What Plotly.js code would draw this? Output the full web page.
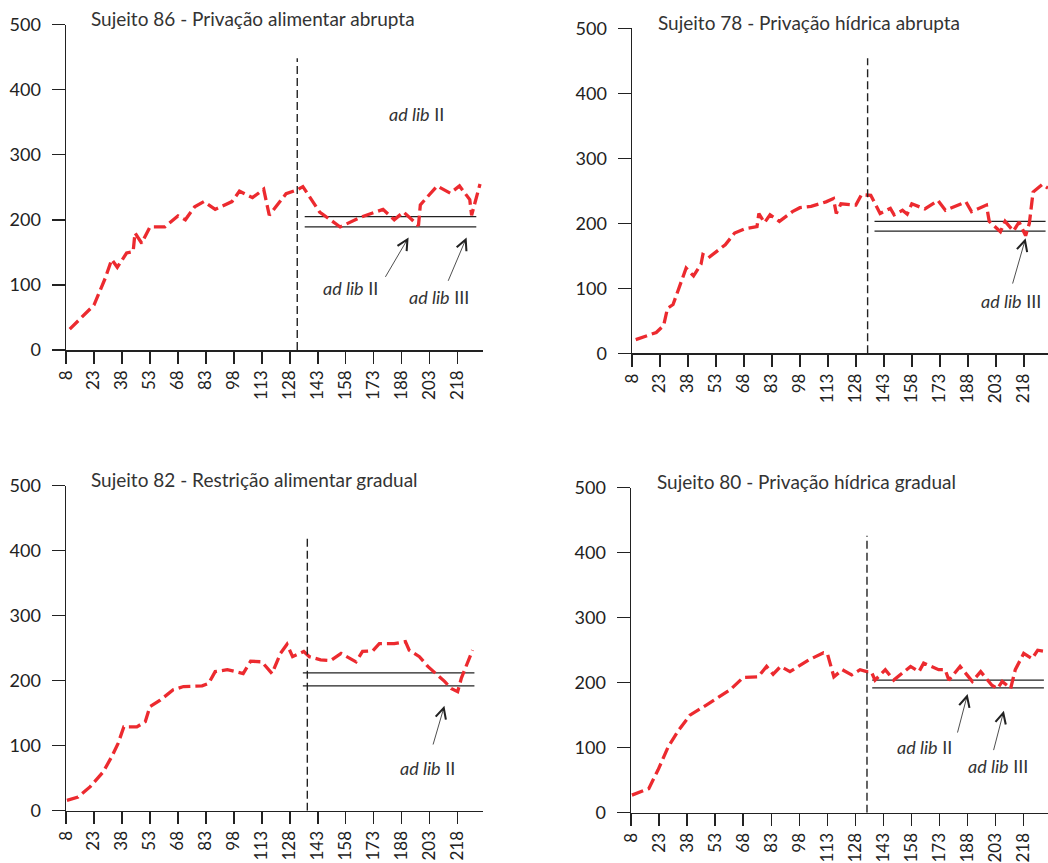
<!DOCTYPE html>
<html>
<head>
<meta charset="utf-8">
<script src="https://cdn.plot.ly/plotly-3.0.1.min.js"></script>
<style>html,body{margin:0;padding:0;background:#fff;}#chart{width:1048px;height:863px;}</style>
</head>
<body>
<div id="chart"></div>
<script>
// ---- data ----
const tickSessions = [8, 23, 38, 53, 68, 83, 98, 113, 128, 143, 158, 173, 188, 203, 218];
const yTicks = [0, 100, 200, 300, 400, 500];

const titles = [
  'Sujeito 86 - Privação alimentar abrupta',
  'Sujeito 78 - Privação hídrica abrupta',
  'Sujeito 82 - Restrição alimentar gradual',
  'Sujeito 80 - Privação hídrica gradual'
];

const sessions86 = [10, 23, 29, 32.5, 35.5, 40.5, 44, 45, 48.6, 53, 61, 68, 72, 77, 82, 88, 97, 101, 108, 114, 117, 126, 132, 135, 144, 155, 166, 178, 184, 189, 197, 198, 207, 214, 219, 224.5, 225.5, 230];
const values86   = [32, 69, 110, 139, 127, 149, 151, 180, 164, 189, 189, 206, 200, 220, 228, 216, 228, 244, 234, 247, 207, 240, 246, 251, 212, 189, 204, 216, 200, 212, 191, 223, 252, 241, 252, 231, 207, 255];

const sessions78 = [10, 21, 25, 27, 30, 37, 41, 45, 46, 49, 58, 63, 69, 75, 76, 79, 82, 87, 94, 98, 104, 112, 116, 117.5, 120, 128, 131, 136, 141, 146.5, 148.5, 153, 155.5, 158, 165, 172, 176, 187, 190, 198, 199.5, 205.5, 208, 212.5, 215.5, 219, 221, 223, 228, 231];
const values78   = [21, 32, 43, 69, 75, 131, 119, 137, 152, 147, 167, 185, 192, 195, 215, 201, 213, 203, 218, 224, 226, 233, 238, 215, 230, 228, 244, 243, 215, 223, 213, 220, 214, 230, 222, 235, 220, 233, 218, 228, 203, 187, 203, 188, 202, 181, 200, 248, 260, 254];

const sessions82 = [8.5, 14.5, 21, 28, 32.5, 36, 39, 46, 50.5, 53, 58.5, 65.5, 71, 81, 84.5, 88, 94.5, 103, 107, 113, 118.5, 123, 126.5, 129.5, 135.5, 138.5, 144.5, 150, 155.5, 163.5, 167, 172.5, 176, 184, 190, 192, 197.5, 202, 211, 214.5, 218, 220, 226];
const values82   = [16, 21, 37, 60, 83, 104, 129, 129, 137, 160, 170, 186, 191, 192, 196, 214, 217, 211, 230, 229, 211, 242, 256, 237, 245, 237, 232, 231, 242, 229, 245, 246, 257, 257, 260, 247, 237, 222, 199, 188, 183, 204, 247];

const sessions80 = [8.5, 17.5, 22.5, 28, 33.5, 39.5, 48.5, 58.5, 61, 68, 76, 80.5, 84, 88, 93, 103, 111, 113, 116.5, 121, 126, 130.5, 134, 136.5, 138.5, 144, 148.5, 157.5, 162, 164.5, 172.5, 176, 178, 184, 190.5, 195, 201, 204, 206.5, 211, 213.5, 218, 222.5, 225.5, 230];
const values80   = [27, 37, 66, 102, 127, 150, 166, 184, 189, 208, 209, 225, 213, 225, 217, 235, 246, 245, 209, 220, 212, 220, 217, 217, 204, 220, 204, 225, 217, 230, 220, 220, 204, 225, 202, 217, 196, 191, 202, 191, 220, 245, 237, 250, 248];

// phase change session and top of the dashed divider
const phaseChange = [132, 134.3, 137.4, 134.2];
const phaseTop    = [448, 454, 423, 426];
// ad lib reference levels
const adlibUpper = [205, 203, 212, 204];
const adlibLower = [189, 188, 192, 192];
const adlibStart = [136, 138, 135, 137];
const adlibEnd   = [228, 229.7, 227, 228.8];
const xMax = [231.6, 231, 231.6, 231];

// annotation labels: [panel, text, x, y, arrowTailX, arrowTailY, arrowHeadX, arrowHeadY]
const labels = [
  [0, '<i>ad lib</i> II', 196, 363, null, null, null, null],
  [0, '<i>ad lib</i> II', 160.5, 95, 178.8, 110, 191.7, 173],
  [0, '<i>ad lib</i> III', 208, 81, 212.6, 104, 222.8, 173],
  [1, '<i>ad lib</i> III', 211, 80.5, 211.8, 105, 219, 177],
  [2, '<i>ad lib</i> II', 202, 65, 204.6, 99.5, 210.9, 161.5],
  [3, '<i>ad lib</i> II', 165, 100.6, 182.4, 121, 188, 182.6],
  [3, '<i>ad lib</i> III', 204.2, 72, 201.7, 94, 207.4, 157]
];

// ---- layout geometry (pixels -> paper) ----
const W = 1048, H = 863;
const panels = [
  {l: 66, r: 483, b: 350, t: 24.5, tx: 89, ty: 18},
  {l: 632, r: 1048, b: 353.3, t: 28.3, tx: 655.7, ty: 22.7},
  {l: 66, r: 483, b: 810.7, t: 485.7, tx: 89, ty: 479.3},
  {l: 631, r: 1048, b: 812.7, t: 487.7, tx: 654.7, ty: 481.7}
];

const sessionsAll = [sessions86, sessions78, sessions82, sessions80];
const valuesAll = [values86, values78, values82, values80];

const FONT = 'Lato, "Open Sans", sans-serif';
const traces = [];
const layout = {
  width: W, height: H,
  margin: {l: 0, r: 0, t: 0, b: 0},
  paper_bgcolor: '#fff', plot_bgcolor: 'rgba(0,0,0,0)',
  showlegend: false,
  shapes: [], annotations: []
};

panels.forEach((p, i) => {
  const n = i + 1;
  const xa = 'x' + (n === 1 ? '' : n), ya = 'y' + (n === 1 ? '' : n);
  const xk = 'xaxis' + (n === 1 ? '' : n), yk = 'yaxis' + (n === 1 ? '' : n);
  traces.push({
    type: 'scatter', mode: 'lines', x: sessionsAll[i], y: valuesAll[i],
    xaxis: xa, yaxis: ya, cliponaxis: true,
    line: {color: '#ec2a2f', width: 3.3, dash: '12px,5px'},
    hoverinfo: 'skip'
  });
  const common = {
    showline: true, linecolor: '#222', linewidth: 1.5,
    ticks: 'outside', ticklen: 13, tickwidth: 1.5, tickcolor: '#222',
    showgrid: false, zeroline: false, fixedrange: true,
    tickfont: {family: FONT, size: 18, color: '#222'}
  };
  layout[xk] = Object.assign({}, common, {
    domain: [p.l / W, p.r / W], anchor: ya, range: [8, xMax[i]],
    tickmode: 'array', tickvals: tickSessions, ticktext: tickSessions.map(String),
    tickangle: -90, ticklen: 12, ticklabelstandoff: 0,
    tickfont: {family: FONT, size: 17, color: '#222'}
  });
  layout[yk] = Object.assign({}, common, {
    domain: [1 - p.b / H, 1 - p.t / H], anchor: xa, range: [0, 500],
    tickmode: 'array', tickvals: yTicks, ticktext: yTicks.map(String),
    ticklabelstandoff: 7
  });
  layout.shapes.push({
    type: 'line', xref: xa, yref: ya, x0: phaseChange[i], x1: phaseChange[i], y0: 0, y1: phaseTop[i],
    line: {color: '#222', width: 1.4, dash: '8px,4px'}
  });
  [adlibUpper[i], adlibLower[i]].forEach(v => layout.shapes.push({
    type: 'line', xref: xa, yref: ya, x0: adlibStart[i], x1: adlibEnd[i], y0: v, y1: v,
    layer: 'below', line: {color: '#222', width: 1.3}
  }));
  layout.annotations.push({
    xref: 'paper', yref: 'paper', x: p.tx / W, y: 1 - p.ty / H,
    xanchor: 'left', yanchor: 'middle', showarrow: false, text: titles[i],
    font: {family: FONT, size: 19, color: '#333'}
  });
});

labels.forEach(a => {
  const n = a[0] + 1;
  const xa = 'x' + (n === 1 ? '' : n), ya = 'y' + (n === 1 ? '' : n);
  layout.annotations.push({
    xref: xa, yref: ya, x: a[2], y: a[3], text: a[1], showarrow: false,
    font: {family: FONT, size: 18, color: '#333'}
  });
  if (a[4] !== null) {
    layout.annotations.push({
      xref: xa, yref: ya, axref: xa, ayref: ya,
      x: a[6], y: a[7], ax: a[4], ay: a[5], text: '',
      showarrow: true, arrowhead: 5, arrowsize: 2.6, arrowwidth: 0.8, arrowcolor: '#222', standoff: 0
    });
  }
});

Plotly.newPlot('chart', traces, layout, {staticPlot: true, displayModeBar: false});
</script>
</body>
</html>
